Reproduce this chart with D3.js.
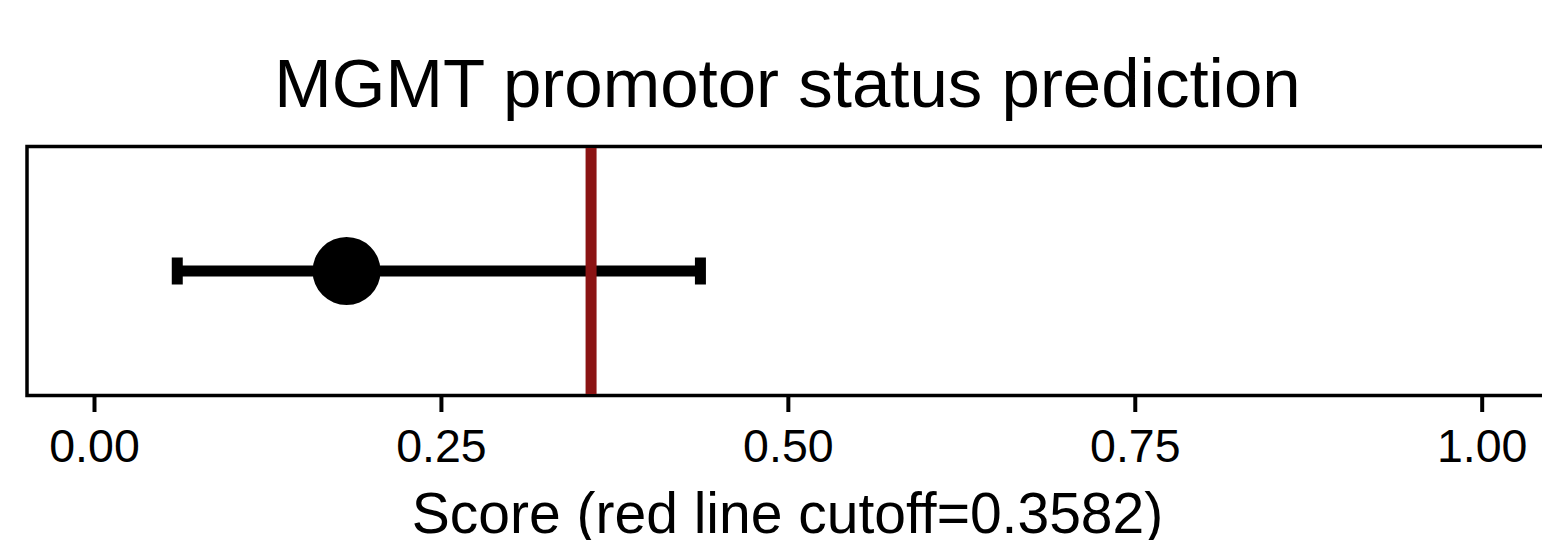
<!DOCTYPE html>
<html>
<head>
<meta charset="utf-8">
<script src="https://cdn.jsdelivr.net/npm/d3@7"></script>
<style>
  html, body { margin: 0; padding: 0; background: #fff; }
  #chart { width: 1542px; height: 540px; overflow: hidden; }
  text { font-family: "Liberation Sans", Arial, Helvetica, sans-serif; fill: #000; }
</style>
</head>
<body>
<div id="chart"></div>
<script>
// Chart values
const categories = ['MGMT'];
const scoreValues = [0.182];
const lowerValues = [0.060];
const upperValues = [0.437];
const cutoffValue = 0.3582;
const tickValues = [0, 0.25, 0.5, 0.75, 1];
const titleText = 'MGMT promotor status prediction';
const axisTitleText = 'Score (red line cutoff=' + cutoffValue + ')';

function drawChart() {
    const width = 1542;
    const height = 540;

    // Panel box (right edge runs slightly past the window, like the source)
    const panel = {left: 27, right: 1548, top: 146.5, bottom: 395.5};

    const svg = d3.select('#chart')
        .append('svg')
        .attr('width', width)
        .attr('height', height);

    // Scales
    const xScale = d3.scaleLinear()
        .domain([0, 1])
        .range([94, 1481.7]);

    const yScale = d3.scalePoint()
        .domain(categories)
        .range([panel.top, panel.bottom])
        .padding(0.5);

    const rows = categories.map((c, i) => ({
        cat: c,
        score: scoreValues[i],
        lower: lowerValues[i],
        upper: upperValues[i]
    }));

    // Title
    svg.append('text')
        .attr('x', (panel.left + panel.right) / 2)
        .attr('y', 107)
        .attr('text-anchor', 'middle')
        .style('font-size', '69px')
        .text(titleText);

    // Panel border
    svg.append('rect')
        .attr('x', panel.left)
        .attr('y', panel.top)
        .attr('width', panel.right - panel.left)
        .attr('height', panel.bottom - panel.top)
        .attr('fill', 'none')
        .attr('stroke', '#000')
        .attr('stroke-width', 3.5);

    // Error bars
    const bars = svg.append('g').attr('class', 'errorbars');
    bars.selectAll('.bar')
        .data(rows)
        .enter()
        .append('line')
        .attr('x1', d => xScale(d.lower))
        .attr('x2', d => xScale(d.upper))
        .attr('y1', d => yScale(d.cat))
        .attr('y2', d => yScale(d.cat))
        .attr('stroke', '#000')
        .attr('stroke-width', 11);

    const capHalf = 13.5;
    ['lower', 'upper'].forEach(key => {
        bars.selectAll('.cap-' + key)
            .data(rows)
            .enter()
            .append('line')
            .attr('x1', d => xScale(d[key]))
            .attr('x2', d => xScale(d[key]))
            .attr('y1', d => yScale(d.cat) - capHalf)
            .attr('y2', d => yScale(d.cat) + capHalf)
            .attr('stroke', '#000')
            .attr('stroke-width', 11);
    });

    // Point estimate
    svg.selectAll('.dot')
        .data(rows)
        .enter()
        .append('circle')
        .attr('cx', d => xScale(d.score))
        .attr('cy', d => yScale(d.cat))
        .attr('r', 34)
        .attr('fill', '#000');

    // Cutoff line
    svg.append('line')
        .attr('x1', xScale(cutoffValue))
        .attr('x2', xScale(cutoffValue))
        .attr('y1', panel.top + 1.5)
        .attr('y2', panel.bottom - 1.5)
        .attr('stroke', '#8b1414')
        .attr('stroke-width', 11);

    // X axis
    const xAxis = d3.axisBottom(xScale)
        .tickValues(tickValues)
        .tickFormat(d3.format('.2f'))
        .tickSize(15)
        .tickSizeOuter(0);

    const axisG = svg.append('g')
        .attr('transform', `translate(0,${panel.bottom + 1.5})`)
        .call(xAxis);

    axisG.select('.domain').remove();
    axisG.selectAll('.tick line')
        .attr('stroke', '#000')
        .attr('stroke-width', 4);
    axisG.selectAll('.tick text')
        .attr('y', 65)
        .attr('dy', null)
        .style('font-size', '46.5px')
        .style('font-family', '"Liberation Sans", Arial, Helvetica, sans-serif')
        .attr('fill', '#000');

    // X axis title
    svg.append('text')
        .attr('x', (panel.left + panel.right) / 2)
        .attr('y', 533)
        .attr('text-anchor', 'middle')
        .style('font-size', '57px')
        .text(axisTitleText);
}

document.addEventListener('DOMContentLoaded', drawChart);
</script>
</body>
</html>
